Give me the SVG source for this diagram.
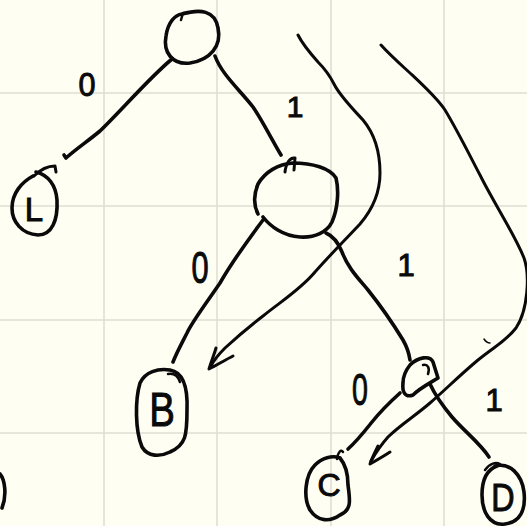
<svg xmlns="http://www.w3.org/2000/svg" width="527" height="526" viewBox="0 0 527 526">
<style>
.grid{stroke:#e1ded3;stroke-width:1.6}
.ink{fill:none;stroke:#0a0a0a;stroke-width:3.6;stroke-linecap:round;stroke-linejoin:round}
.lbl{font-family:"Liberation Sans","DejaVu Sans",sans-serif;fill:#0a0a0a;stroke:#0a0a0a;stroke-width:1;text-anchor:middle}
</style>
<rect width="527" height="526" fill="#fffef2"/>
<g id="grid">
<line class="grid" x1="104" y1="0" x2="104" y2="526"/>
<line class="grid" x1="217" y1="0" x2="217" y2="526"/>
<line class="grid" x1="331" y1="0" x2="331" y2="526"/>
<line class="grid" x1="444" y1="0" x2="444" y2="526"/>
<line class="grid" x1="0" y1="93" x2="527" y2="93"/>
<line class="grid" x1="0" y1="206" x2="527" y2="206"/>
<line class="grid" x1="0" y1="320" x2="527" y2="320"/>
<line class="grid" x1="0" y1="433" x2="527" y2="433"/>
</g>
<g id="connectors">
<path class="ink" d="M172,59 C150,77 120,112 100,131 C88,141 76,149 66,158 L64,155"/>
<path class="ink" d="M215,56 C222,75 240,90 253,107 C262,120 272,140 281,155"/>
<path class="ink" d="M263,220 C248,240 232,262 220,283 C205,305 192,322 187,333 C182,343 177,352 173,362"/>
<path class="ink" d="M326,233 C333,236 338,242 342,252 C348,268 358,278 368,290 C380,305 392,322 403,340 C407,347 409,353 410,360"/>
<path class="ink" d="M400,393 C390,402 380,412 372,422 C364,432 357,441 348,449"/>
<path class="ink" d="M430,384 C435,395 442,405 452,417 C465,432 480,443 489,457"/>
<path class="ink" style="stroke-width:3" d="M298,35 C303,45 310,53 318,62 C326,70 330,76 334,84 C340,96 352,108 363,120 C373,132 380,150 380,173 C380,192 372,210 360,224 C345,240 330,255 315,272 C300,290 280,302 263,316 C250,326 238,336 225,348 C218,355 214,360 211,366"/>
<path class="ink" style="stroke-width:3" d="M216,348 C214,355 211,362 209,369 C217,365 225,360 233,356"/>
<path class="ink" style="stroke-width:3" d="M381,45 C390,55 398,62 410,73 C425,87 437,98 445,110 C456,128 468,152 480,175 C495,205 515,235 524,258 C530,275 528,310 516,328 C505,342 495,346 478,360 C460,375 445,390 430,403 C415,416 400,425 388,437 C380,446 375,454 371,461"/>
<path class="ink" style="stroke-width:3" d="M378,446 C375,452 372,458 370,464 C377,460 384,456 390,452"/>
<path class="ink" style="stroke-width:1.5" d="M484,339 C486,342 488,343 490,343"/>
</g>
<g id="node-root">
<path class="ink" d="M182,14 C200,9 215,10 218,28 C222,46 210,60 190,63 C172,65 163,52 166,36 C168,22 175,15 182,14 Z"/>
<path class="ink" style="stroke-width:2.5" d="M181,20 L183,13 L188,13"/>
</g>
<g id="node-L">
<path class="ink" d="M33,176 C22,182 12,193 12,208 C12,222 22,234 38,235 C52,235 58,220 57,200 C56,185 48,175 36,172"/>
<path class="ink" style="stroke-width:3" d="M34,176 C40,170 48,166 55,166 L56,172"/>
<text class="lbl" x="34" y="221" font-size="33">L</text>
</g>
<g id="node-mid">
<path class="ink" d="M263,217 C270,226 283,236 300,237 C315,238 327,232 332,222 C338,208 339,190 336,178 C330,168 312,163 293,163 C278,164 265,172 258,184 C253,196 254,206 258,214"/>
<path class="ink" style="stroke-width:3" d="M285,172 C286,163 290,157 295,158 L294,170"/>
</g>
<g id="node-B">
<path class="ink" d="M170,370 C182,372 188,385 187,410 C187,435 186,445 170,452 C160,457 148,457 142,447 C135,430 135,400 140,383 C145,372 158,368 170,370Z"/>
<path class="ink" style="stroke-width:2.5" d="M168,374 C174,373 178,376 180,382"/>
<text class="lbl" x="162" y="426" font-size="48" transform="translate(162 0) scale(0.8 1) translate(-162 0)">B</text>
</g>
<g id="node-small">
<path class="ink" d="M410,365 C418,357 430,355 433,362 L438,378 C430,383 420,388 413,395 C405,398 402,392 403,383 C403,375 406,370 410,365 Z"/>
<path class="ink" style="stroke-width:2.5" d="M423,365 C428,364 430,368 428,374"/>
</g>
<g id="node-C">
<path class="ink" d="M340,458 C345,464 348,474 348,485 C350,500 352,510 340,515 C330,522 318,522 310,510 C303,498 305,475 315,465 C322,458 332,455 340,458"/>
<path class="ink" style="stroke-width:2.5" d="M337,459 C338,452 341,449 343,452"/>
<text class="lbl" x="329" y="496" font-size="32">C</text>
</g>
<g id="node-D">
<path class="ink" d="M495,466 C510,462 522,475 524,492 C526,510 520,522 505,524 C490,526 482,512 482,495 C482,480 486,470 497,466"/>
<path class="ink" style="stroke-width:2.5" d="M485,470 C490,463 496,462 500,464"/>
<text class="lbl" x="503" y="511" font-size="38" transform="translate(503 0) scale(0.85 1) translate(-503 0)">D</text>
</g>
<g id="node-edge">
<path class="ink" d="M0,474 C5,480 7,495 2,508"/>
</g>
<g id="labels">
<text class="lbl" x="87" y="96" font-size="34" transform="translate(87 0) scale(0.9 1) translate(-87 0)">0</text>
<text class="lbl" x="295" y="117" font-size="30">1</text>
<text class="lbl" x="200" y="283" font-size="44" transform="translate(200 0) scale(0.7 1) translate(-200 0)">0</text>
<text class="lbl" x="406" y="276" font-size="31">1</text>
<text class="lbl" x="360" y="405" font-size="44" transform="translate(360 0) scale(0.65 1) translate(-360 0)">0</text>
<text class="lbl" x="494" y="411" font-size="31">1</text>
</g>
</svg>
